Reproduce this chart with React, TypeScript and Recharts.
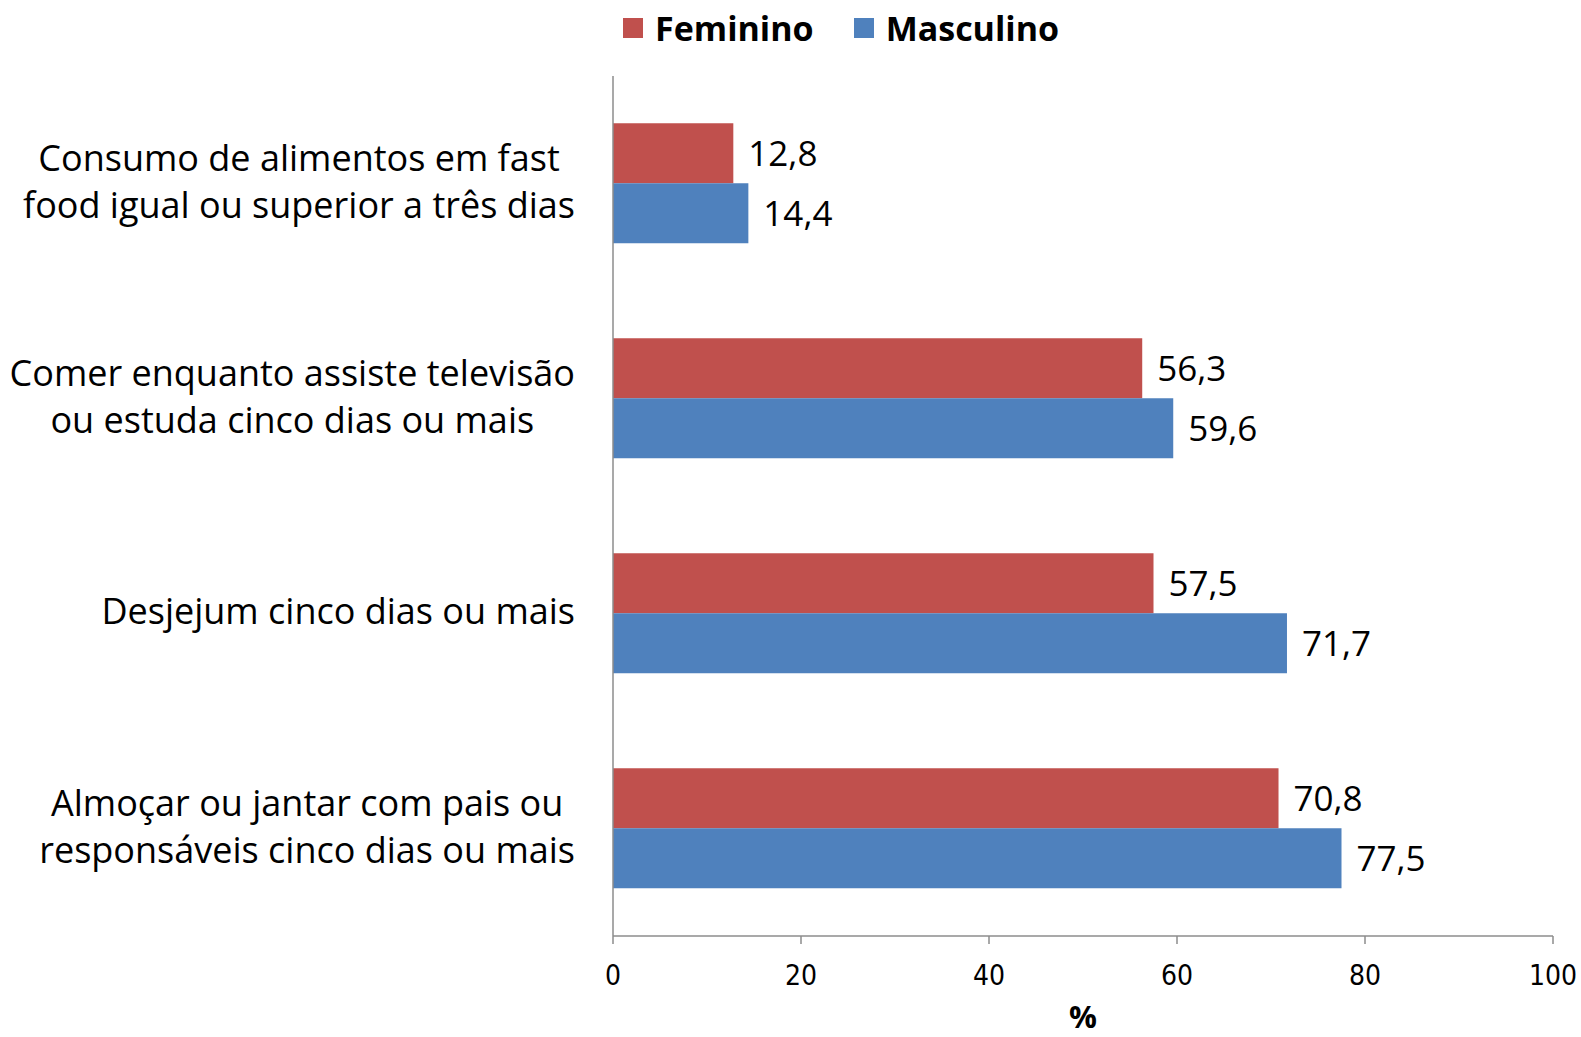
import React from 'react';
import { BarChart, Bar, XAxis, YAxis, LabelList } from 'recharts';

const categories = [
  'Consumo de alimentos em fast\nfood igual ou superior a três dias',
  'Comer enquanto assiste televisão\nou estuda cinco dias ou mais',
  'Desjejum cinco dias ou mais',
  'Almoçar ou jantar com pais ou\nresponsáveis cinco dias ou mais',
];
const feminino = [12.8, 56.3, 57.5, 70.8];
const masculino = [14.4, 59.6, 71.7, 77.5];
const xTicks = [0, 20, 40, 60, 80, 100];
const seriesNames = ['Feminino', 'Masculino'];

const RED = '#C0504D';
const BLUE = '#4F81BD';
const AXIS = '#8C8C8C';
const FONT = "'Open Sans', 'Noto Sans', sans-serif";
const NARROW = "'Liberation Sans Narrow', 'DejaVu Sans Condensed', 'Open Sans', sans-serif";
const CAT_SIZE = 36;

const data = categories.map((c, i) => ({ cat: c, Feminino: feminino[i], Masculino: masculino[i] }));

let ctx: CanvasRenderingContext2D | null = null;
const measure = (t: string) => {
  if (!ctx) ctx = document.createElement('canvas').getContext('2d');
  if (!ctx) return t.length * CAT_SIZE * 0.5;
  ctx.font = `${CAT_SIZE}px ${FONT}`;
  return ctx.measureText(t).width;
};

const YTick = (props: any) => {
  const { x, y, payload } = props;
  const lines: string[] = String(payload.value).split('\n');
  const maxW = Math.max(...lines.map(measure));
  const cx = x - maxW / 2;
  const lh = 47;
  const start = y - 3 - ((lines.length - 1) * lh) / 2;
  return (
    <g>
      {lines.map((l, i) => (
        <text key={i} x={cx} y={start + i * lh} textAnchor="middle" dominantBaseline="central"
          fontFamily={FONT} fontSize={CAT_SIZE} fill="#000">{l}</text>
      ))}
    </g>
  );
};

const XTick = (props: any) => {
  const { x, y, payload } = props;
  return (
    <text x={x} y={y + 29} textAnchor="middle" dominantBaseline="central" fontFamily={NARROW} fontSize={28} fill="#000">
      {payload.value}
    </text>
  );
};

const colors = [RED, BLUE];

const fmt = (v: any) => String(v).replace('.', ',');

export default function App() {
  return (
    <div style={{ position: 'absolute', left: 0, top: 0, width: 1581, height: 1037, background: '#fff' }}>
      <div style={{ position: 'absolute', left: 623, top: 8, height: 40, display: 'flex', alignItems: 'center',
        fontFamily: FONT, fontWeight: 700, fontSize: 34, color: '#000', zIndex: 2 }}>
        {seriesNames.map((n, i) => (
          <div key={n} style={{ display: 'flex', alignItems: 'center', marginRight: i === 0 ? 40 : 0 }}>
            <div style={{ width: 20, height: 20, background: colors[i], marginRight: 12 }} />
            <span>{n}</span>
          </div>
        ))}
      </div>
      <BarChart width={1581} height={1037} data={data} layout="vertical"
        margin={{ top: 76, right: 28, bottom: 0, left: 0 }} barGap={0} barCategoryGap="22%">
        <XAxis type="number" domain={[0, 100]} ticks={xTicks} tick={<XTick />} tickSize={8}
          stroke={AXIS} tickLine={{ stroke: AXIS, strokeWidth: 1.5 }} axisLine={{ stroke: AXIS, strokeWidth: 1.5 }}
          label={{ value: '%', position: 'insideBottom', offset: 9, style: { fontFamily: FONT, fontWeight: 700, fontSize: 31, fill: '#000' } }}
          height={101} />
        <YAxis type="category" dataKey="cat" width={613} tick={<YTick />} tickLine={false} tickSize={0} tickMargin={38}
          axisLine={{ stroke: AXIS, strokeWidth: 1.5 }} interval={0} />
        <Bar dataKey="Feminino" fill={RED} isAnimationActive={false}>
          <LabelList dataKey="Feminino" position="right" offset={15} formatter={fmt}
            style={{ fontFamily: FONT, fontSize: 35, fill: '#000' }} />
        </Bar>
        <Bar dataKey="Masculino" fill={BLUE} isAnimationActive={false}>
          <LabelList dataKey="Masculino" position="right" offset={15} formatter={fmt}
            style={{ fontFamily: FONT, fontSize: 35, fill: '#000' }} />
        </Bar>
      </BarChart>
    </div>
  );
}
